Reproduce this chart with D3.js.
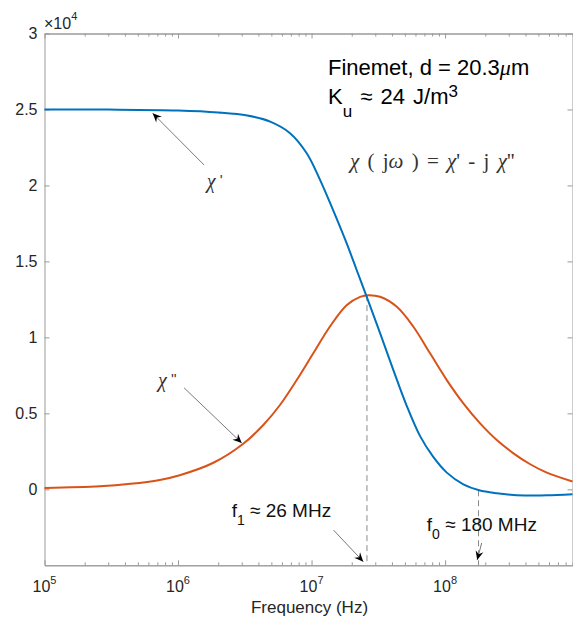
<!DOCTYPE html>
<html>
<head>
<meta charset="utf-8">
<script src="https://cdn.jsdelivr.net/npm/d3@7"></script>
<style>
  body { margin: 0; background: #fff; }
  svg { font-family: "Liberation Sans", Arial, Helvetica, sans-serif; }
</style>
</head>
<body>
<script>
const freqReal = [1e5, 3e5, 1e6, 2e6, 3.3e6, 4.9e6, 6.9e6, 9.2e6, 1.16e7, 1.45e7, 1.83e7, 2.18e7, 2.59e7,
  3.26e7, 4.08e7, 5.16e7, 6.5e7, 8.13e7, 1.03e8, 1.37e8, 1.8e8, 2.44e8, 3.25e8, 4.34e8, 5.78e8, 9e8]
const chiReal = [25000, 24990, 24930, 24800, 24600, 24200, 23440, 22120, 20350, 18370, 16200, 14420, 12670,
  10280, 7900, 5500, 3500, 2150, 1100, 330, -60, -260, -370, -400, -390, -320]

// chi'' (imaginary part)
const freqImag = [1e5, 2.6e5, 4.4e5, 7.3e5, 1.03e6, 1.84e6, 3.08e6, 4.35e6, 5.8e6, 7.74e6, 1.03e7, 1.37e7,
  1.83e7, 2.31e7, 2.66e7, 3.26e7, 4.35e7, 5.79e7, 7.72e7, 1.03e8, 1.37e8, 1.83e8, 2.44e8, 3.25e8, 4.34e8, 5.78e8, 9e8]
const chiImag = [90, 200, 360, 620, 930, 1750, 3000, 4230, 5550, 7190, 8950, 10700,
  12120, 12670, 12780, 12670, 12010, 10700, 8950, 7190, 5660, 4340, 3240, 2370, 1650, 1100, 520]

const xMajorTicks = [1e5, 1e6, 1e7, 1e8]
const xTickExponents = ['5', '6', '7', '8']
const yTicks = [0, 5000, 10000, 15000, 20000, 25000, 30000]
const yTickLabels = ['0', '0.5', '1', '1.5', '2', '2.5', '3']

// f1 (chi'' peak) and f0 (chi' zero crossing)
const f1 = 2.6e7
const f1Value = 12780
const f0 = 1.78e8
const f0Value = -60

const width = 573
const height = 617
const plotLeft = 44.5, plotRight = 572.5, plotTop = 33.5, plotBottom = 565.3

const svg = d3.select('body').append('svg').attr('width', width).attr('height', height)

const x = d3.scaleLog().domain([1e5, 9e8]).range([plotLeft, plotRight])
const y = d3.scaleLinear().domain([-5000, 30000]).range([plotBottom, plotTop])

const minorTicks = []
xMajorTicks.forEach(d => { for (let k = 2; k <= 9; k++) minorTicks.push(d * k) })

const axisColor = '#9a9a9a'
const styleAxis = g => {
  g.select('.domain').attr('stroke', axisColor)
  g.selectAll('.tick line').attr('stroke', axisColor)
  g.selectAll('.tick text').remove()
}

// box + ticks (MATLAB style, ticks pointing in)
svg.append('g').attr('transform', `translate(0,${plotBottom})`)
  .call(d3.axisBottom(x).tickValues(xMajorTicks).tickSizeInner(-5).tickSizeOuter(0)).call(styleAxis)
svg.append('g').attr('transform', `translate(0,${plotBottom})`)
  .call(d3.axisBottom(x).tickValues(minorTicks).tickSizeInner(-3).tickSizeOuter(0)).call(styleAxis)
svg.append('g').attr('transform', `translate(0,${plotTop})`)
  .call(d3.axisTop(x).tickValues(xMajorTicks).tickSizeInner(-5).tickSizeOuter(0)).call(styleAxis)
svg.append('g').attr('transform', `translate(0,${plotTop})`)
  .call(d3.axisTop(x).tickValues(minorTicks).tickSizeInner(-3).tickSizeOuter(0)).call(styleAxis)
svg.append('g').attr('transform', `translate(${plotLeft},0)`)
  .call(d3.axisLeft(y).tickValues(yTicks).tickSizeInner(-5).tickSizeOuter(0)).call(styleAxis)
svg.append('g').attr('transform', `translate(${plotRight},0)`)
  .call(d3.axisRight(y).tickValues(yTicks).tickSizeInner(-5).tickSizeOuter(0)).call(styleAxis)

// tick labels
svg.append('g').selectAll('text').data(yTicks).enter().append('text')
  .attr('x', plotLeft - 7).attr('y', d => y(d)).attr('dy', '0.35em')
  .attr('text-anchor', 'end').attr('font-size', 16).attr('fill', '#262626')
  .text((d, i) => yTickLabels[i])

const xl = svg.append('g').selectAll('text').data(xMajorTicks).enter().append('text')
  .attr('x', d => x(d)).attr('y', 592)
  .attr('text-anchor', 'middle').attr('font-size', 16).attr('fill', '#262626')
xl.append('tspan').text('10')
xl.append('tspan').attr('dy', -8).attr('font-size', 11).text((d, i) => xTickExponents[i])

svg.append('text').attr('x', (plotLeft + plotRight) / 2 + 1).attr('y', 613)
  .attr('text-anchor', 'middle').attr('font-size', 17).attr('fill', '#262626')
  .text('Frequency (Hz)')

const mult = svg.append('text').attr('x', 44).attr('y', 29).attr('font-size', 16).attr('fill', '#262626')
mult.append('tspan').text('\u00d710')
mult.append('tspan').attr('dy', -9).attr('font-size', 11).text('4')

// dashed markers
const dashes = [[f1, f1Value], [f0, f0Value]]
svg.append('g').selectAll('line').data(dashes).enter().append('line')
  .attr('x1', d => x(d[0])).attr('x2', d => x(d[0]))
  .attr('y1', d => y(d[1])).attr('y2', plotBottom)
  .attr('stroke', '#8a8a8a').attr('stroke-width', 1).attr('stroke-dasharray', '6,4')

// curves
const line = d3.line().x(d => x(d[0])).y(d => y(d[1])).curve(d3.curveCatmullRom.alpha(0.5))
svg.append('path').datum(freqImag.map((f, i) => [f, chiImag[i]]))
  .attr('d', line).attr('fill', 'none').attr('stroke', '#D95319').attr('stroke-width', 2)
svg.append('path').datum(freqReal.map((f, i) => [f, chiReal[i]]))
  .attr('d', line).attr('fill', 'none').attr('stroke', '#0072BD').attr('stroke-width', 2)

// arrows
svg.append('defs').append('marker')
  .attr('id', 'head').attr('markerUnits', 'userSpaceOnUse')
  .attr('viewBox', '-10 -5 12 10').attr('refX', 0).attr('refY', 0)
  .attr('markerWidth', 12).attr('markerHeight', 10).attr('orient', 'auto')
  .append('path').attr('d', 'M0,0 L-9,-4 L-6,0 L-9,4 Z').attr('fill', '#000')

const arrows = [
  [[1.57e6, 21340], [6.46e5, 24750]],
  [[1.11e6, 6680], [3.0e6, 3050]],
  [[1.46e7, -2680], [2.44e7, -4760]],
  [[1.88e8, -3530], [1.74e8, -4650]]
]
svg.append('g').selectAll('line').data(arrows).enter().append('line')
  .attr('x1', d => x(d[0][0])).attr('y1', d => y(d[0][1]))
  .attr('x2', d => x(d[1][0])).attr('y2', d => y(d[1][1]))
  .attr('stroke', '#7a7a7a').attr('stroke-width', 1).attr('marker-end', 'url(#head)')

// curve labels
const chiLabel = (f, v, primes) => {
  const t = svg.append('text').attr('x', x(f)).attr('y', y(v))
    .attr('font-family', '"Liberation Serif", "Times New Roman", serif').attr('font-size', 20).attr('fill', '#333')
  t.append('tspan').attr('font-style', 'italic').text('\u03c7')
  t.append('tspan').attr('font-family', '"Liberation Sans", Arial, sans-serif').attr('font-size', 15).attr('dy', -3).text(' ' + primes)
}
chiLabel(1.64e6, 19820, "'")
chiLabel(7.08e5, 6730, "''")

// frequency labels
const fLabel = (f, v, sub, rest) => {
  const t = svg.append('text').attr('x', x(f)).attr('y', y(v)).attr('font-size', 19).attr('fill', '#111')
  t.append('tspan').text('f')
  t.append('tspan').attr('dy', 8).attr('font-size', 14).text(sub)
  t.append('tspan').attr('dy', -8).text(' \u2248 ' + rest)
}
fLabel(2.52e6, -1800, '1', '26 MHz')
fLabel(7.3e7, -2720, '0', '180 MHz')

// title block
svg.append('text').attr('x', 328).attr('y', 75).attr('font-size', 22).attr('fill', '#000')
  .call(t => {
    t.append('tspan').text('Finemet, d = 20.3')
    t.append('tspan').attr('font-family', '"Liberation Serif", serif').attr('font-style', 'italic').text('\u03bc')
    t.append('tspan').text('m')
  })
svg.append('text').attr('x', 328).attr('y', 104).attr('font-size', 22).attr('fill', '#000')
  .attr('word-spacing', 2)
  .call(t => {
    t.append('tspan').text('K')
    t.append('tspan').attr('dy', 13).attr('font-size', 17).text('u')
    t.append('tspan').attr('dy', -13).text(' \u2248 24 J/m')
    t.append('tspan').attr('dy', -7).attr('font-size', 17).text('3')
  })
svg.append('text').attr('x', 350).attr('y', 168).attr('font-size', 21).attr('fill', '#333')
  .attr('font-family', '"Liberation Serif", "Times New Roman", serif')
  .attr('word-spacing', 3)
  .call(t => {
    t.append('tspan').attr('font-style', 'italic').text('\u03c7')
    t.append('tspan').text(' ( j')
    t.append('tspan').attr('font-style', 'italic').text('\u03c9')
    t.append('tspan').text(' ) = ')
    t.append('tspan').attr('font-style', 'italic').text('\u03c7')
    t.append('tspan').text("' - j ")
    t.append('tspan').attr('font-style', 'italic').text('\u03c7')
    t.append('tspan').text("''")
  })
</script>
</body>
</html>
